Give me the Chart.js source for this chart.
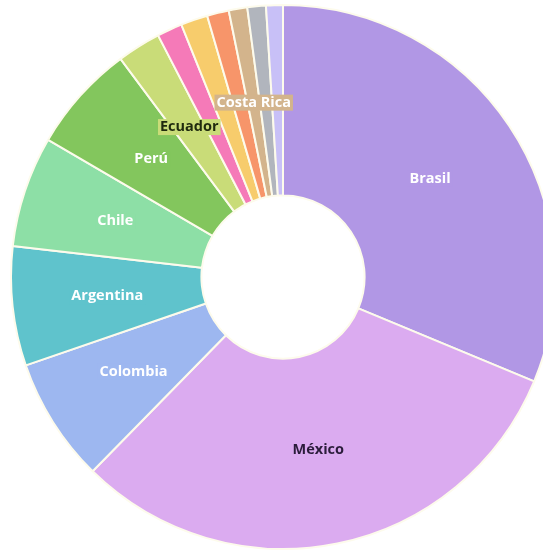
<!DOCTYPE html>
<html>
<head>
<meta charset="utf-8">
<script src="https://cdn.jsdelivr.net/npm/chart.js@4"></script>
<style>
  html, body { margin: 0; padding: 0; background: #fff; overflow: hidden; width: 543px; height: 550px; }
  .wrap { position: absolute; left: 10px; top: 4px; width: 546px; height: 546px; }
</style>
</head>
<body>
<div class="wrap"><canvas id="myChart"></canvas></div>
<script>
// Data (share of total, %)
const countries = ['Brasil', 'México', 'Colombia', 'Argentina', 'Chile', 'Perú', 'Ecuador',
                   'Guatemala', 'Bolivia', 'Panamá', 'Costa Rica', 'Uruguay', 'Paraguay'];
const shares = [31.3, 31.1, 7.4, 7.1, 6.6, 6.4, 2.6, 1.5, 1.6, 1.3, 1.1, 1.1, 1.0];
const sliceColors = ['#b197e5', '#dbabf0', '#9db7f0', '#5fc3cc', '#8ddfa6', '#83c65d', '#c9dc78',
                     '#f57ab8', '#f7cc6c', '#f7956a', '#d3b48c', '#b1b5bd', '#c8c0f7'];
const shownLabels = ['Brasil', 'México', 'Colombia', 'Argentina', 'Chile', 'Perú', 'Ecuador', 'Costa Rica'];
const darkLabels = { 'México': '#2b1c3b', 'Ecuador': '#1f2a0e' };

// draws the slice names in the middle of each arc (no datalabels plugin available offline)
const sliceLabels = {
    id: 'sliceLabels',
    afterDatasetsDraw(chart) {
        let ctx = chart.ctx;
        let meta = chart.getDatasetMeta(0);
        ctx.save();
        ctx.font = '700 14.5px "Open Sans"';
        ctx.textAlign = 'center';
        ctx.textBaseline = 'middle';
        meta.data.forEach((arc, i) => {
            let name = countries[i];
            if (!shownLabels.includes(name)) return;
            let p = arc.tooltipPosition();
            let w = ctx.measureText(name).width;
            ctx.fillStyle = sliceColors[i];
            ctx.fillRect(p.x - w / 2 - 2, p.y - 8, w + 4, 16);
            ctx.fillStyle = darkLabels[name] || '#ffffff';
            ctx.fillText(name, p.x, p.y);
        });
        ctx.restore();
    }
};

let ctx = document.getElementById('myChart').getContext('2d');
let chart = new Chart(ctx, {
    type: 'doughnut',
    data: {
        labels: countries,
        datasets: [{
            data: shares,
            backgroundColor: sliceColors,
            borderColor: '#fdfbec',
            borderWidth: 2
        }]
    },
    options: {
        responsive: true,
        maintainAspectRatio: false,
        animation: false,
        cutout: '30%',
        layout: { padding: 0 },
        plugins: {
            legend: { display: false },
            tooltip: { enabled: false }
        }
    },
    plugins: [sliceLabels]
});
</script>
</body>
</html>
